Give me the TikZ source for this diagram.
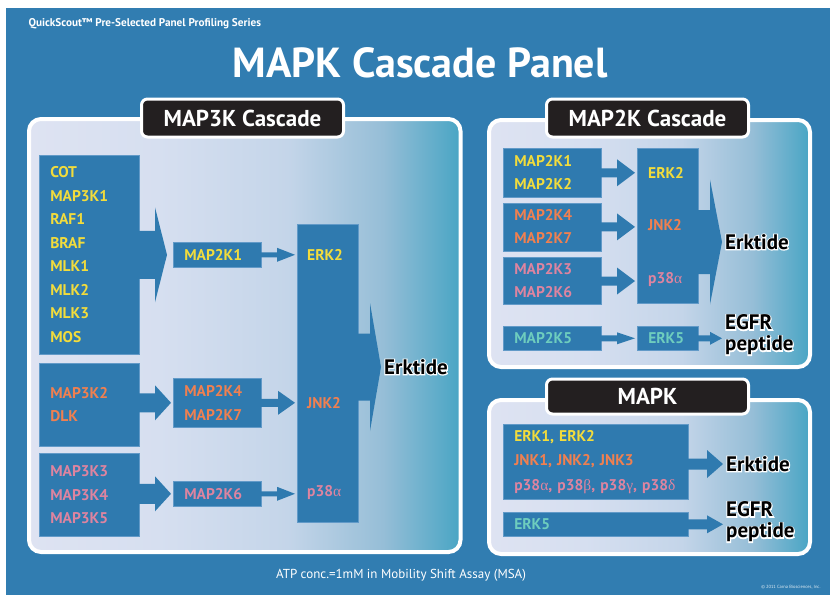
\documentclass[tikz,border=0pt]{standalone}
\usepackage{fontspec}
\setmainfont{PT Sans}
\newfontfamily\halofont[FakeBold=10]{PT Sans Bold}
\newfontfamily\grk{Liberation Serif}
\usepackage{xcolor}
\usepackage{tikz}
\usetikzlibrary{calc, positioning}

\definecolor{bgblue}{RGB}{49,125,177}
\definecolor{boxblue}{RGB}{47,122,175}
\definecolor{boxline}{RGB}{98,154,200}
\definecolor{panelA}{RGB}{222,227,242}
\definecolor{panelB}{RGB}{214,223,240}
\definecolor{panelC}{RGB}{196,213,233}
\definecolor{panelD}{RGB}{150,190,215}
\definecolor{panelE}{RGB}{72,165,196}
\definecolor{tagblack}{RGB}{35,31,32}
\definecolor{kyellow}{RGB}{242,220,60}
\definecolor{korange}{RGB}{240,128,80}
\definecolor{kpink}{RGB}{222,132,160}
\definecolor{kteal}{RGB}{110,205,190}

\pgfdeclarehorizontalshading{panelshade}{100bp}{color(0bp)=(panelA); color(25bp)=(panelA); color(40bp)=(panelB); color(55bp)=(panelC); color(66bp)=(panelD); color(75bp)=(panelE); color(100bp)=(panelE)}

\newcommand{\halo}[1]{\rlap{\textcolor{white}{\halofont #1}}#1}
\newcommand{\gr}[1]{{\grk\mdseries #1}}

\begin{document}
\begin{tikzpicture}[x=1pt, y=-1pt, node distance=8pt]
	% Styles
	\tikzstyle{panel} = [draw=white, line width=4pt, rounded corners=12pt, shade, shading=panelshade, anchor=north west, inner sep=0pt]
	\tikzstyle{tag} = [draw=white, line width=3pt, fill=tagblack, rounded corners=6pt, minimum width=202pt, minimum height=38pt, text=white, font=\bfseries\fontsize{23}{23}\selectfont]
	\tikzstyle{kbox} = [draw=boxline, line width=0.6pt, fill=boxblue, anchor=north west, inner xsep=11pt, inner ysep=0pt, align=left, font=\bfseries\fontsize{15.5}{23.5}\selectfont]
	\tikzstyle{klabel} = [anchor=west, inner sep=0pt, font=\bfseries\fontsize{15.5}{15.5}\selectfont]
	\tikzstyle{sub} = [anchor=west, inner sep=3pt, align=left, font=\bfseries\fontsize{21}{21}\selectfont]
	\tikzset{fat/.style n args={3}{to path={let \p1=(\tikztostart), \p2=(\tikztotarget) in
		(\x1-0.6pt,\y2+#1pt) -- (\x2-#3pt,\y2+#1pt) -- (\x2-#3pt,\y2+#2pt) -- (\x2,\y2)
		-- (\x2-#3pt,\y2-#2pt) -- (\x2-#3pt,\y2-#1pt) -- (\x1-0.6pt,\y2-#1pt) -- cycle}}}

	\useasboundingbox (0,0) rectangle (830,595);
	\fill[white] (0,0) rectangle (830,595);
	\fill[bgblue] (6,8) rectangle (830,595);

	% Titles
	\node (series) [anchor=west, text=white, font=\bfseries\fontsize{11.2}{12}\selectfont] at (25,24) {QuickScout\texttrademark{} Pre-Selected Panel Profiling Series};
	\node (title) [text=white, font=\bfseries\fontsize{42}{44}\selectfont] at (420,63) {MAPK Cascade Panel};

	% Panels
	\node (p3k) [panel, minimum width=431.5pt, minimum height=433pt] at (27,117) {};
	\node (p2k) [panel, minimum width=321pt, minimum height=247pt] at (487,118) {};
	\node (pk) [panel, minimum width=321pt, minimum height=154pt] at (487,398) {};
	\node (t3k) [tag] at (242.5,118) {MAP3K Cascade};
	\node (t2k) [tag] at (647.5,118) {MAP2K Cascade};
	\node (tk) [tag, minimum height=35pt] at (647.5,396.5) {MAPK};

	% MAP3K cascade
	\node (m3a) [kbox, text width=78pt, minimum height=199pt, text=kyellow] at (39,155) {COT\\MAP3K1\\RAF1\\BRAF\\MLK1\\MLK2\\MLK3\\MOS};
	\node (m3b) [kbox, text width=78pt, minimum height=83pt, text=korange, below=8pt of m3a] {MAP3K2\\DLK};
	\node (m3c) [kbox, text width=78pt, minimum height=83pt, text=kpink, below=7pt of m3b] {MAP3K3\\MAP3K4\\MAP3K5};
	\node (m2a) [kbox, text width=66pt, minimum height=25pt, text=kyellow] at (173,242) {MAP2K1};
	\node (m2b) [kbox, text width=66pt, minimum height=49pt, text=korange] at (173,378) {MAP2K4\\MAP2K7};
	\node (m2c) [kbox, text width=66pt, minimum height=25pt, text=kpink] at (173,481) {MAP2K6};
	\node (kcol) [kbox, text width=39pt, minimum height=298pt] at (297,224) {};
	\node (kerk) [klabel, text=kyellow] at (307,255) {ERK2};
	\node (kjnk) [klabel, text=korange] at (307,403) {JNK2};
	\node (kp38) [klabel, text=kpink] at (307,493) {p38\gr{α}};
	\node (sub1) [sub] at (381,367) {\halo{Erktide}};

	\fill[boxblue] (m3a.east) to[fat={24}{47.5}{12}] ($(m2a.west)+(-6,0)$);
	\fill[boxblue] (m3b.east) to[fat={9.5}{17.5}{16}] ($(m2b.west)+(-2,0)$);
	\fill[boxblue] (m3c.east) to[fat={10}{17.5}{16}] ($(m2c.west)+(-2,0)$);
	\fill[boxblue] (m2a.east) to[fat={2.5}{7}{18}] ($(kcol.west |- m2a.east)+(-2,0)$);
	\fill[boxblue] (m2b.east) to[fat={4}{12}{17}] ($(kcol.west |- m2b.east)+(-2,0)$);
	\fill[boxblue] (m2c.east) to[fat={2.5}{7}{18}] ($(kcol.west |- m2c.east)+(-2,0)$);
	\fill[boxblue] (kcol.east) to[fat={33.5}{64}{11}] (sub1.west);

	% MAP2K cascade
	\node (q2a) [kbox, text width=76pt, minimum height=49pt, text=kyellow, font=\bfseries\fontsize{15.5}{23}\selectfont] at (503,148) {MAP2K1\\MAP2K2};
	\node (q2b) [kbox, text width=76pt, minimum height=48pt, text=korange, font=\bfseries\fontsize{15.5}{23}\selectfont, below=5pt of q2a] {MAP2K4\\MAP2K7};
	\node (q2c) [kbox, text width=76pt, minimum height=47pt, text=kpink, font=\bfseries\fontsize{15.5}{23}\selectfont, below=6pt of q2b] {MAP2K3\\MAP2K6};
	\node (q2d) [kbox, text width=76pt, minimum height=24pt, text=kteal] at (503,326) {MAP2K5};
	\node (qcol) [kbox, text width=39pt, minimum height=155pt] at (637,148) {};
	\node (qerk) [klabel, text=kyellow] at (648,173) {ERK2};
	\node (qjnk) [klabel, text=korange] at (648,225) {JNK2};
	\node (qp38) [klabel, text=kpink] at (648,280) {p38\gr{α}};
	\node (qerk5) [kbox, text width=39pt, minimum height=24pt, text=kteal] at (637,326) {ERK5};
	\node (sub2) [sub] at (722,242) {\halo{Erktide}};
	\node (sub3) [sub] at (722,335) {\halo{EGFR}\\\halo{peptide}};

	\fill[boxblue] (q2a.east) to[fat={4.5}{13.5}{18}] ($(qcol.west |- q2a.east)+(-2,0)$);
	\fill[boxblue] (q2b.east) to[fat={4.5}{13.5}{18}] ($(qcol.west |- q2b.east)+(-2,0)$);
	\fill[boxblue] (q2c.east) to[fat={4.5}{13.5}{18}] ($(qcol.west |- q2c.east)+(-2,0)$);
	\fill[boxblue] (q2d.east) to[fat={3}{6}{18}] ($(qerk5.west)+(-2,0)$);
	\fill[boxblue] (qcol.east) to[fat={32}{62.5}{12}] (sub2.west);
	\fill[boxblue] (qerk5.east) to[fat={3}{6.5}{12}] (sub3.west |- qerk5.east);

	% MAPK
	\node (rk1) [kbox, text width=163pt, minimum height=75pt, font=\bfseries\fontsize{15.5}{24.5}\selectfont] at (503,424) {\textcolor{kyellow}{ERK1, ERK2}\\\textcolor{korange}{JNK1, JNK2, JNK3}\\\textcolor{kpink}{p38\gr{α}, p38\gr{β}, p38\gr{γ}, p38\gr{δ}}};
	\node (rk2) [kbox, text width=163pt, minimum height=24pt, text=kteal] at (503,512) {ERK5};
	\node (sub4) [sub] at (723,464) {\halo{Erktide}};
	\node (sub5) [sub] at (723,522) {\halo{EGFR}\\\halo{peptide}};

	\fill[boxblue] (rk1.east) to[fat={5.5}{14}{16}] (sub4.west);
	\fill[boxblue] (rk2.east) to[fat={5}{9}{16}] (sub5.west |- rk2.east);

	% Footer
	\node (atp) [text=white, font=\fontsize{13}{15}\selectfont] at (401,575) {ATP conc.=1mM in Mobility Shift Assay (MSA)};
	\node (copy) [anchor=east, text=white!85!bgblue, font=\fontsize{4.5}{5}\selectfont] at (824,587) {\textcopyright{} 2011 Carna Biosciences, Inc.};
\end{tikzpicture}
\end{document}
